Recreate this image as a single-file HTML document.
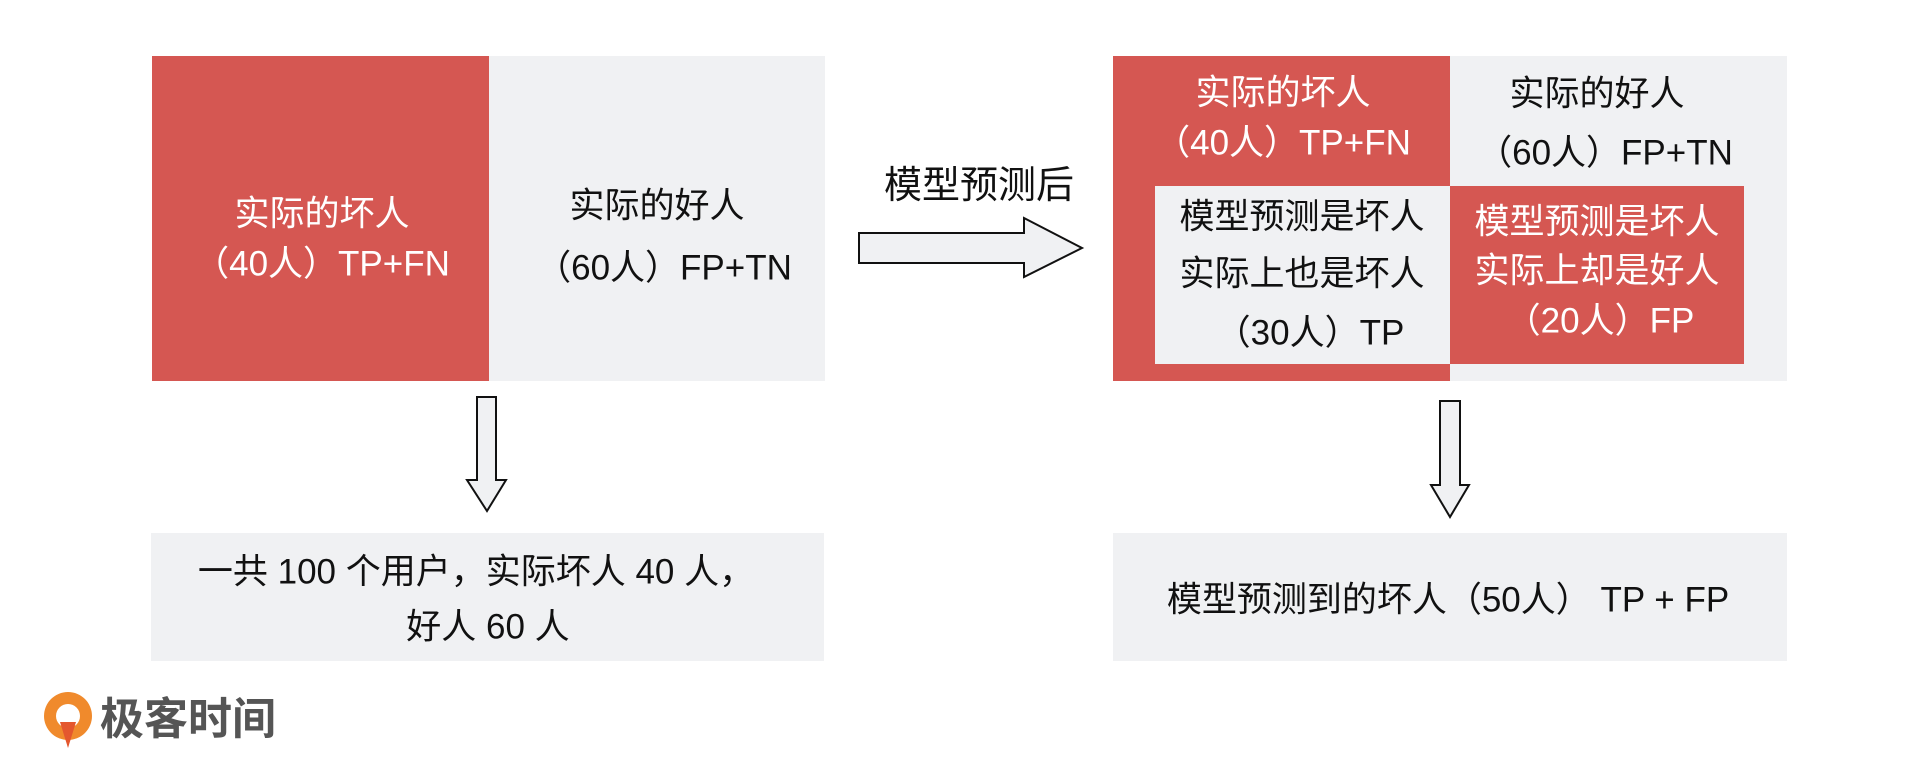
<!DOCTYPE html>
<html><head><meta charset="utf-8"><style>
body{margin:0;width:1920px;height:777px;background:#fff;position:relative;overflow:hidden;font-family:"Liberation Sans","Noto Sans CJK SC",sans-serif;}
.b{position:absolute;}
.red{background:#d55752;color:#fff;}
.gray{background:#f0f1f3;color:#111;}
.t{position:absolute;white-space:nowrap;transform:translate(-50%,-50%);font-size:35px;line-height:1;}
.w{color:#fff}.k{color:#111}
</style></head><body>
<div class="b red" style="left:152px;top:56px;width:337px;height:325px"></div>
<div class="b gray" style="left:489px;top:56px;width:336px;height:325px"></div>
<div class="t w" style="left:322px;top:214px">实际的坏人</div>
<div class="t w" style="left:322px;top:264px">（40人）TP+FN</div>
<div class="t k" style="left:657px;top:206px">实际的好人</div>
<div class="t k" style="left:664px;top:268px">（60人）FP+TN</div>

<div class="b gray" style="left:151px;top:533px;width:673px;height:128px"></div>
<div class="t k" style="left:476px;top:572px;font-size:35px">一共 100 个用户，实际坏人 40 人，</div>
<div class="t k" style="left:488px;top:627px;font-size:35px">好人 60 人</div>

<div class="b red" style="left:1113px;top:56px;width:337px;height:325px"></div>
<div class="b gray" style="left:1450px;top:56px;width:337px;height:325px"></div>
<div class="b gray" style="left:1155px;top:186px;width:295px;height:178px"></div>
<div class="b red" style="left:1450px;top:186px;width:294px;height:178px"></div>
<div class="t w" style="left:1283px;top:93px">实际的坏人</div>
<div class="t w" style="left:1283px;top:143px">（40人）TP+FN</div>
<div class="t k" style="left:1597px;top:94px">实际的好人</div>
<div class="t k" style="left:1605px;top:153px">（60人）FP+TN</div>
<div class="t k" style="left:1302px;top:217px">模型预测是坏人</div>
<div class="t k" style="left:1302px;top:274px">实际上也是坏人</div>
<div class="t k" style="left:1310px;top:333px">（30人）TP</div>
<div class="t w" style="left:1597px;top:222px">模型预测是坏人</div>
<div class="t w" style="left:1597px;top:271px">实际上却是好人</div>
<div class="t w" style="left:1600px;top:321px">（20人）FP</div>

<div class="b gray" style="left:1113px;top:533px;width:674px;height:128px"></div>
<div class="t k" style="left:1448px;top:600px;font-size:35px">模型预测到的坏人（50人） TP + FP</div>

<div class="t k" style="left:979px;top:186px;font-size:38px">模型预测后</div>

<svg class="b" style="left:0;top:0" width="1920" height="777">
<g fill="#f0f1f3" stroke="#111" stroke-width="2">
<polygon points="477,397 496,397 496,480 506,480 487,511 467,480 477,480"/>
<polygon points="1440,401 1460,401 1460,485 1469,485 1450,517 1431,485 1440,485"/>
<polygon points="859,233 1024,233 1024,218 1082,248 1024,277 1024,263 859,263"/>
</g>
<g>
<circle cx="68" cy="716" r="24" fill="#f08a2c"/>
<circle cx="68" cy="716" r="12" fill="#fff"/>
<polygon points="60,722 76,722 68,748" fill="#e4572e"/>
</g>
<text x="100" y="734" font-size="44" font-weight="bold" fill="#555" font-family="Liberation Sans,Noto Sans CJK SC,sans-serif">极客时间</text>
</svg>
</body></html>
